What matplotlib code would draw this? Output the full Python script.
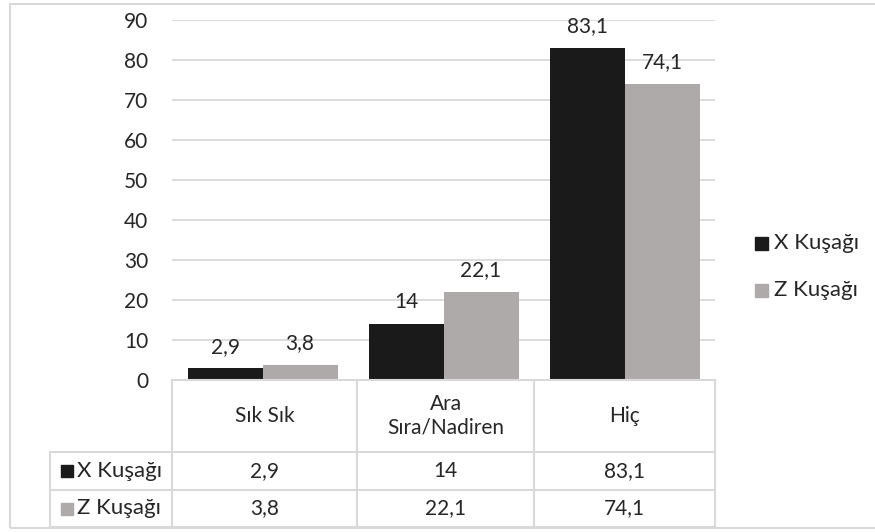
import matplotlib.pyplot as plt
from matplotlib.patches import Rectangle
from matplotlib.lines import Line2D

plt.rcParams['font.family'] = ['Lato', 'DejaVu Sans']

# data
categories = ['Sık Sık', 'Ara\nSıra/Nadiren', 'Hiç']
series_names = ['X Kuşağı', 'Z Kuşağı']
x_values = [2.9, 14, 83.1]
z_values = [3.8, 22.1, 74.1]
yticks = [0, 10, 20, 30, 40, 50, 60, 70, 80, 90]

colors = ['#1a1a1a', '#aeaaaa']
txt = '#262626'
grid_c = '#d9d9d9'


def fmt(v):
    return ('%g' % v).replace('.', ',')


W, H = 875, 532
fig = plt.figure(figsize=(W / 100, H / 100), dpi=100)


def fx(px):
    return px / W


def fy(py):
    return 1 - py / H


# outer chart frame
fig.patches.append(Rectangle((fx(10), fy(528)), fx(880) - fx(10), fy(4) - fy(528),
                             transform=fig.transFigure, fill=False,
                             edgecolor='#d9d9d9', lw=1.5))

ax_l, ax_r, ax_t, ax_b = 172, 715, 20, 380
ax = fig.add_axes([fx(ax_l), fy(ax_b), fx(ax_r) - fx(ax_l), fy(ax_t) - fy(ax_b)])

n = len(categories)
bw = 75 / 181
idx = list(range(n))
data = [x_values, z_values]
for s, vals in enumerate(data):
    pos = [i + (s - 0.5) * bw for i in idx]
    bars = ax.bar(pos, vals, width=bw, color=colors[s], zorder=3)
    for b, v in zip(bars, vals):
        ax.annotate(fmt(v), (b.get_x() + b.get_width() / 2, v), xytext=(0, 8.5),
                    textcoords='offset points', ha='center', va='bottom',
                    fontsize=15, color=txt, zorder=4)

ax.set_xlim(-0.5, n - 0.5)
ax.set_ylim(0, 90)
ax.set_yticks(yticks)
ax.set_yticklabels([str(t) for t in yticks], fontsize=15, color=txt)
ax.tick_params(axis='y', length=0, pad=17)
ax.set_xticks([])
ax.yaxis.grid(True, color=grid_c, lw=1.3, zorder=0)
for sp in ax.spines.values():
    sp.set_visible(False)

# data table below the axis
row_y = [380, 452, 490, 527]
col_x = [50, 172, 357, 534, 715]
segs = [([col_x[1], col_x[-1]], [row_y[0], row_y[0]])]
for y in row_y[1:]:
    segs.append(([col_x[0], col_x[-1]], [y, y]))
for x in col_x[1:]:
    segs.append(([x, x], [row_y[0], row_y[-1]]))
segs.append(([col_x[0], col_x[0]], [row_y[1], row_y[-1]]))
for xs, ys in segs:
    fig.add_artist(Line2D([fx(v) for v in xs], [fy(v) for v in ys],
                          transform=fig.transFigure, color=grid_c, lw=1.5))

for i, c in enumerate(categories):
    cx = (col_x[i + 1] + col_x[i + 2]) / 2
    fig.text(fx(cx), fy((row_y[0] + row_y[1]) / 2), c, ha='center', va='center',
             fontsize=15, color=txt, linespacing=1.25)
    for s, vals in enumerate(data):
        fig.text(fx(cx), fy((row_y[s + 1] + row_y[s + 2]) / 2), fmt(vals[i]),
                 ha='center', va='center', fontsize=15, color=txt)

for s, name in enumerate(series_names):
    yc = (row_y[s + 1] + row_y[s + 2]) / 2
    fig.patches.append(Rectangle((fx(61), fy(yc + 6)), fx(12), fy(yc - 6) - fy(yc + 6),
                                 transform=fig.transFigure, color=colors[s]))
    fig.text(fx(77), fy(yc), name, ha='left', va='center', fontsize=16, color=txt)

# legend on the right
for s, name in enumerate(series_names):
    yc = [243, 290][s]
    fig.patches.append(Rectangle((fx(755), fy(yc + 6.5)), fx(13), fy(yc - 6.5) - fy(yc + 6.5),
                                 transform=fig.transFigure, color=colors[s]))
    fig.text(fx(774), fy(yc), name, ha='left', va='center', fontsize=16, color=txt)

fig.savefig('out.png', dpi=100)
